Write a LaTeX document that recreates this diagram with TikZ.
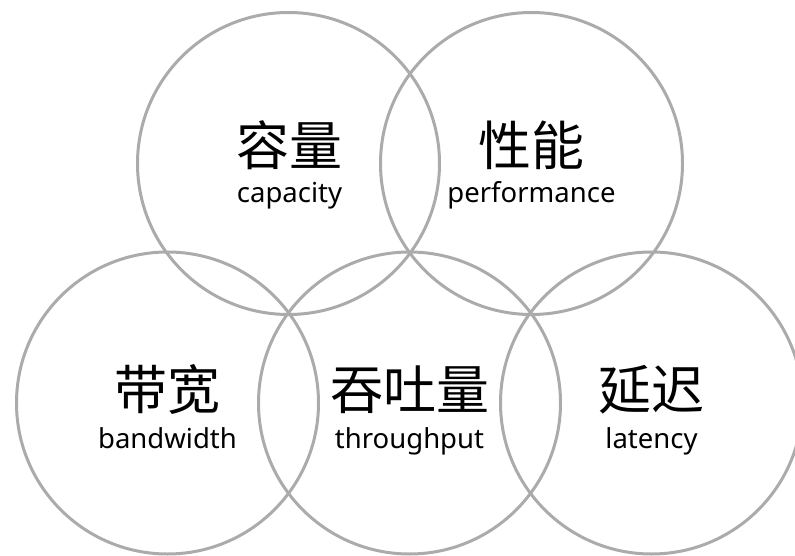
\documentclass[tikz,border=0pt]{standalone}
\usepackage{fontspec}
\setmainfont{Noto Sans}
\newfontfamily\cjk{Noto Sans CJK SC}
\definecolor{ringgray}{HTML}{ABABAB}
\tikzset{
  ring/.style={circle, draw=ringgray, line width=3pt, minimum size=302pt, inner sep=0pt},
  zh/.style={font=\cjk\fontsize{53}{60}\selectfont, inner sep=0pt, anchor=base},
  en/.style={font=\fontsize{27.5}{32}\selectfont, inner sep=0pt, anchor=base}
}
\begin{document}
\begin{tikzpicture}[x=1pt,y=-1pt]
\useasboundingbox (0,0) rectangle (795,556);
\clip (0,0) rectangle (795,556);
\node[ring] (cap) at (288.5,163.5) {};
\node[ring] (perf) at (531.5,163.5) {};
\node[ring] (bw) at (167.5,403) {};
\node[ring] (tp) at (409.5,403) {};
\node[ring] (lat) at (651.5,403) {};
\node[zh] (capzh) at (289.5,166) {容量};
\node[en] (capen) at (289.5,203) {capacity};
\node[zh] (perfzh) at (531.5,166) {性能};
\node[en] (perfen) at (531.5,203) {performance};
\node[zh] (bwzh) at (167.5,409) {带宽};
\node[en] (bwen) at (167.5,448) {bandwidth};
\node[zh] (tpzh) at (409.5,409) {吞吐量};
\node[en] (tpen) at (409.5,448) {throughput};
\node[zh] (latzh) at (651.5,409) {延迟};
\node[en] (laten) at (651.5,448) {latency};
\end{tikzpicture}
\end{document}
